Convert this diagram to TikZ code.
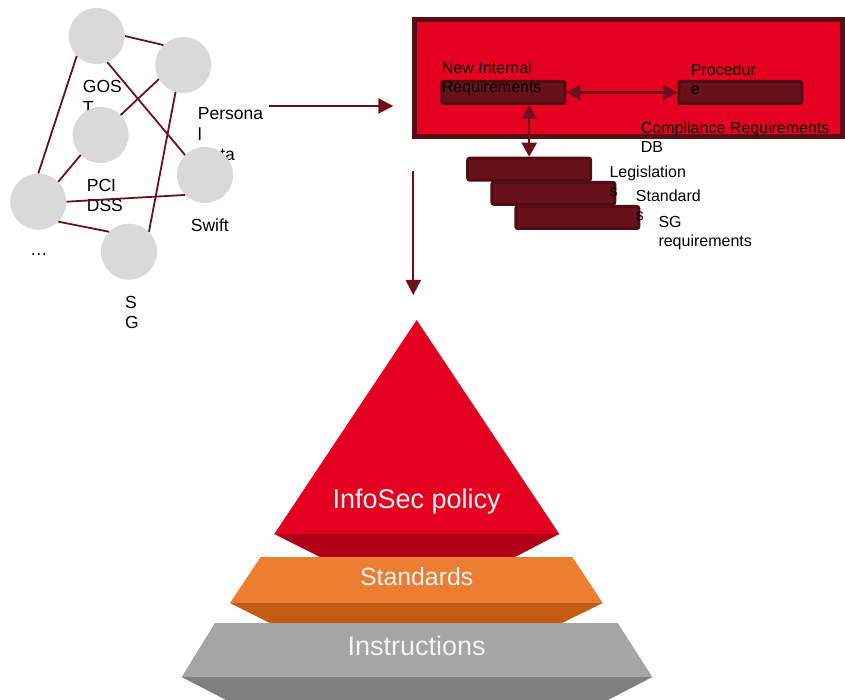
\documentclass[tikz,border=0pt]{standalone}
\usepackage{fontspec}
\setmainfont{Liberation Sans}
\usetikzlibrary{arrows.meta,calc}
\definecolor{lnred}{HTML}{6E1019}
\definecolor{circgray}{HTML}{D9D9D9}
\definecolor{boxred}{HTML}{E6001F}
\definecolor{boxedge}{HTML}{5A0C13}
\definecolor{barfill}{HTML}{67111A}
\definecolor{baredge}{HTML}{520B11}
\definecolor{pyred}{HTML}{E5001F}
\definecolor{pyreddk}{HTML}{AF0017}
\definecolor{pyor}{HTML}{ED7D31}
\definecolor{pyordk}{HTML}{C55A11}
\definecolor{pygr}{HTML}{A5A5A5}
\definecolor{pygrdk}{HTML}{7F7F7F}
\definecolor{pytext}{HTML}{F4F4F4}
\begin{document}
\begin{tikzpicture}[x=1pt,y=-1pt,
  circ/.style={circle,fill=circgray,minimum size=56pt,inner sep=0pt},
  edge/.style={draw=lnred,line width=1.8pt},
  lbl/.style={anchor=base west,inner sep=0pt,align=left,font=\fontsize{17.5}{20.3}\selectfont},
  blbl/.style={anchor=base west,inner sep=0pt,align=left,font=\fontsize{16}{19}\selectfont},
  darkbox/.style={draw=baredge,fill=barfill,line width=3pt,rounded corners=2pt,minimum width=123pt,minimum height=22pt,inner sep=0pt},
  arr/.style={draw=lnred,line width=2pt,-{Triangle[length=15pt,width=15pt]}},
  darr/.style={draw=lnred,line width=2.5pt,{Triangle[length=14pt,width=15pt]}-{Triangle[length=14pt,width=15pt]}},
  pytxt/.style={text=pytext,inner sep=0pt,anchor=base}
]
\useasboundingbox (0,0) rectangle (845,700);

% ---------- graph of standards ----------
% (base anchor of a multi-line node = baseline of its last line)
\node[lbl] (lgost) at (82.7,113.3) {GOS\\T};
\node[lbl] (lpers) at (197.7,160.6) {Persona\\l\\Data};
\node[lbl] (lpci) at (86.7,212) {PCI\\DSS};
\node[lbl] (lswift) at (190.7,231.7) {Swift};
\node[lbl] (ldots) at (30,256) {…};
\node[lbl] (lsg) at (125,328.3) {S\\G};

\node[circ] (c1) at (96.7,36) {};
\node[circ] (c2) at (183.3,65) {};
\node[circ] (c3) at (100.7,135) {};
\node[circ] (c4) at (38.3,201.7) {};
\node[circ] (c5) at (205,175) {};
\node[circ] (c6) at (129,251.7) {};

\draw[edge] (c1.0) -- (c2.135);
\draw[edge] (c1.-68) -- (c5.135);
\draw[edge] (c1.225) -- (c4.90);
\draw[edge] (c2.-150) -- (c3.45);
\draw[edge] (c2.-106) -- (c6.45);
\draw[edge] (c3.225) -- (c4.45);
\draw[edge] (c4.0) -- (c5.225);
\draw[edge] (c4.-45) -- (c6.135);

% ---------- compliance DB ----------
\node[draw=boxedge,fill=boxred,line width=5pt,minimum width=428pt,minimum height=117pt,inner sep=0pt] (rbox) at (628.5,78) {};
\node[darkbox] (nir) at (503.3,92.5) {};
\node[darkbox] (proc) at (740.3,92.5) {};
\node[darkbox] (bar1) at (529.2,169.2) {};
\node[darkbox] (bar2) at (553.3,193.3) {};
\node[darkbox] (bar3) at (577.3,217.5) {};

\node[blbl] (tnir) at (441.7,92.5) {New Internal\\Requirements};
\node[blbl] (tproc) at (690.7,95) {Procedur\\e};
\node[blbl] (tcr) at (640.7,153) {Compliance Requirements\\DB};
\node[blbl] (tleg) at (609.3,196.7) {Legislation\\s};
\node[blbl] (tstd) at (635.7,220.7) {Standard\\s};
\node[blbl] (tsg) at (658.3,246.7) {SG\\requirements};

\draw[darr] (nir.east) -- (proc.west);
\draw[darr] (bar1.north |- nir.south) -- (bar1.north);

% ---------- connectors ----------
\coordinate (pA) at (269.3,106);
\coordinate (pB) at (393.3,106);
\coordinate (dA) at (413.3,171);
\coordinate (dB) at (413.3,295);
\draw[arr] (pA) -- (pB);
\draw[arr] (dA) -- (dB);

% ---------- pyramid ----------
\fill[pyred] (416.7,320) -- (559.3,534) -- (274.3,534) -- cycle;
\fill[pyreddk] (274.3,534) -- (559.3,534) -- (515,557) -- (320,557) -- cycle;
\fill[pyor] (260.7,557) -- (572.3,557) -- (602.7,603) -- (230,603) -- cycle;
\fill[pyordk] (230,603) -- (602.7,603) -- (562,623) -- (270,623) -- cycle;
\fill[pygr] (215,623) -- (617.7,623) -- (652.3,677) -- (181.7,677) -- cycle;
\fill[pygrdk] (181.7,677) -- (652.3,677) -- (608,700) -- (226,700) -- cycle;

\node[pytxt,font=\fontsize{27}{31}\selectfont] (tpol) at (416.7,508) {InfoSec policy};
\node[pytxt,font=\fontsize{24.8}{29}\selectfont] (tstds) at (416.7,585) {Standards};
\node[pytxt,font=\fontsize{27}{31}\selectfont] (tins) at (416.7,655) {Instructions};
\end{tikzpicture}
\end{document}
